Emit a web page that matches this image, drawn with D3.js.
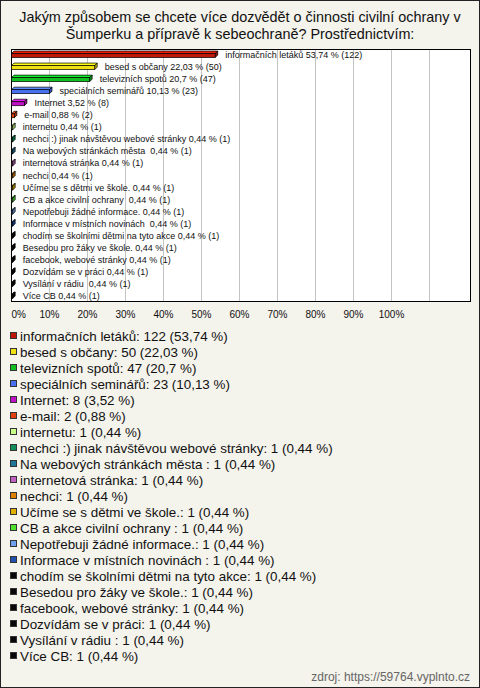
<!DOCTYPE html>
<html><head><meta charset="utf-8">
<script src="https://cdn.jsdelivr.net/npm/d3@7"></script>
<style>
html,body{margin:0;padding:0;background:#fff;}
text{font-family:"Liberation Sans",Arial,sans-serif;white-space:pre;}
</style></head>
<body>
<svg id="c" width="480" height="688"></svg>
<script>
const titleLines = ["Jakým způsobem se chcete více dozvědět o činnosti civilní ochrany v", "Šumperku a přípravě k sebeochraně? Prostřednictvím:"];
const categories = ["informačních letáků","besed s občany","televizních spotů","speciálních seminářů","Internet","e-mail","internetu","nechci :) jinak návštěvou webové stránky","Na webových stránkách města ","internetová stránka","nechci","Učíme se s dětmi ve škole.","CB a akce civilní ochrany ","Nepotřebuji žádné informace.","Informace v místních novinách ","chodím se školními dětmi na tyto akce","Besedou pro žáky ve škole.","facebook, webové stránky","Dozvídám se v práci","Vysílání v rádiu ","Více CB"];
const counts = [122,50,47,23,8,2,1,1,1,1,1,1,1,1,1,1,1,1,1,1,1];
const percents = [53.74,22.03,20.7,10.13,3.52,0.88,0.44,0.44,0.44,0.44,0.44,0.44,0.44,0.44,0.44,0.44,0.44,0.44,0.44,0.44,0.44];
const colors = ["#c01808","#f0e010","#10c020","#4870f0","#c010c8","#e04010","#c8ff88","#109058","#207898","#c060c0","#e08000","#e0b000","#50e030","#70a0f0","#2050b0","#080808","#080808","#080808","#080808","#080808","#080808"];
const tickValues = [0,10,20,30,40,50,60,70,80,90,100];
const gridValues = [10,20,30,40,50,60,70,80,90,100,110];
const source = "zdroj: https://59764.vyplnto.cz";

(function(){
const fmt = v => String(v).replace(".", ",");
const svg = d3.select("#c");
svg.append("rect").attr("x",0.5).attr("y",0.5).attr("width",479).attr("height",687)
  .attr("fill","#f4f3ec").attr("stroke","#222").attr("stroke-width",1);

svg.append("g").selectAll("text").data(titleLines).join("text")
  .attr("x",240).attr("y",(d,i)=>22+i*16.5).attr("text-anchor","middle")
  .attr("font-size",14.4).attr("fill","#111").text(d=>d);

const pLeft=11, pRight=471, pTop=49, pBottom=302;
const x = d3.scaleLinear().domain([0,100]).range([pLeft,391]);
const y = d3.scaleBand().domain(categories).range([pTop,pBottom]);

svg.append("rect").attr("x",pLeft+0.5).attr("y",pTop+0.5).attr("width",pRight-pLeft-1).attr("height",pBottom-pTop-1)
  .attr("fill","#fff").attr("stroke","#000");
svg.append("g").selectAll("line").data(gridValues).join("line")
  .attr("x1",d=>Math.round(x(d))+0.5).attr("x2",d=>Math.round(x(d))+0.5)
  .attr("y1",pTop+1).attr("y2",pBottom-1).attr("stroke","#c4c4c4");

const d = 2.5;
const bars = svg.append("g").selectAll("g").data(categories).join("g");
bars.each(function(c,i){
  const g = d3.select(this);
  const cy = y(c) + y.bandwidth()/2;
  const x0 = x(0)+0.5, x1 = x(percents[i]);
  const yt = cy-1.5, yb = cy+2.5;
  const col = d3.color(colors[i]);
  g.append("path").attr("d",`M${x0},${yt}L${x0+d},${yt-d}L${x1+d},${yt-d}L${x1},${yt}Z`)
    .attr("fill",col.brighter(0.6)).attr("stroke","#000").attr("stroke-width",0.7);
  g.append("path").attr("d",`M${x1},${yt}L${x1+d},${yt-d}L${x1+d},${yb-d}L${x1},${yb}Z`)
    .attr("fill",col.darker(0.8)).attr("stroke","#000").attr("stroke-width",0.7);
  g.append("rect").attr("x",x0).attr("y",yt).attr("width",Math.max(0,x1-x0)).attr("height",yb-yt)
    .attr("fill",col).attr("stroke","#000").attr("stroke-width",0.7);
  g.append("text").attr("x",x1+10).attr("y",cy+3).attr("font-size",9).attr("fill","#111")
    .text(`${c} ${fmt(percents[i])} % (${counts[i]})`);
});

const axis = d3.axisBottom(x).tickValues(tickValues).tickFormat(v=>v+"%").tickSize(0).tickPadding(0);
const ag = svg.append("g").attr("transform",`translate(0,${311})`).call(axis);
ag.select(".domain").remove();
ag.selectAll("text").attr("font-size",10).attr("fill","#111").attr("font-family","Liberation Sans, Arial, sans-serif")
  .attr("dy","0.71em");
ag.selectAll(".tick").filter(v=>v===0).select("text").attr("text-anchor","start");

const lg = svg.append("g").selectAll("g").data(categories).join("g")
  .attr("transform",(c,i)=>`translate(0,${336+i*16})`);
lg.append("rect").attr("x",10.5).attr("y",-3.5).attr("width",6).attr("height",6)
  .attr("fill",(c,i)=>colors[i]).attr("stroke","#333").attr("stroke-width",1);
lg.append("text").attr("x",20).attr("y",5).attr("font-size",13.4).attr("fill","#111")
  .text((c,i)=>`${c}: ${counts[i]} (${fmt(percents[i])} %)`);

svg.append("text").attr("x",470).attr("y",681).attr("text-anchor","end").attr("font-size",12)
  .attr("fill","#666").text(source);
})();
</script>
</body></html>
